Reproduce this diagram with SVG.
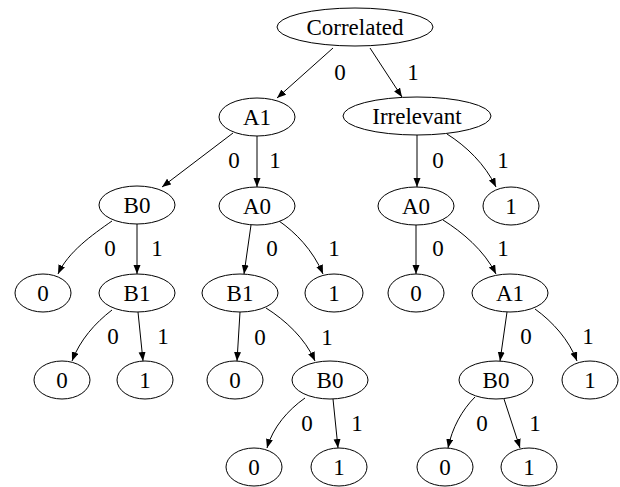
<svg xmlns="http://www.w3.org/2000/svg" width="620" height="487" viewBox="0 0 620 487">
<style>
.n ellipse{fill:#fff;stroke:#000;stroke-width:1}
text{font-size:23px;fill:#000;text-anchor:middle}
.e path{fill:none;stroke:#000;stroke-width:1;marker-end:url(#ah)}
</style>
<defs>
<marker id="ah" markerUnits="userSpaceOnUse" markerWidth="10" markerHeight="8" refX="9" refY="3.5" orient="auto">
<path d="M0,0 L9,3.5 L0,7 z" fill="#000"/>
</marker>
</defs>
<rect width="620" height="487" fill="#fff"/>
<g id="edges" class="e">
<path d="M333,48 L277,98"/>
<path d="M370,48 L402,97"/>
<path d="M233,133 L162,187"/>
<path d="M257,136 L257,187"/>
<path d="M112,221 C92,235 68,252 58,274"/>
<path d="M137,224 L137,274"/>
<path d="M251,225 L244,274"/>
<path d="M279,221 C295,232 313,250 323,274"/>
<path d="M240,312 L237,361"/>
<path d="M266,308 C285,320 305,338 315,361"/>
<path d="M305,398 C288,410 273,427 267,448"/>
<path d="M333,399 L338,448"/>
<path d="M112,310 C95,323 80,340 72,361"/>
<path d="M138,312 L143,361"/>
<path d="M417,135 L417,187"/>
<path d="M447,134 C466,146 485,164 496,187"/>
<path d="M416,225 L416,274"/>
<path d="M443,220 C462,232 484,250 496,274"/>
<path d="M507,312 L500,361"/>
<path d="M535,309 C553,322 569,340 577,361"/>
<path d="M475,397 C462,410 452,428 448,448"/>
<path d="M504,399 L520,448"/>
</g>
<g font-family="Liberation Serif, DejaVu Serif, serif">
<g id="edge-labels">
<text x="340" y="80">0</text>
<text x="413" y="80">1</text>
<text x="234" y="168">0</text>
<text x="275" y="168">1</text>
<text x="110" y="256">0</text>
<text x="157" y="256">1</text>
<text x="272" y="256">0</text>
<text x="334" y="256">1</text>
<text x="260" y="345">0</text>
<text x="327" y="345">1</text>
<text x="307" y="431">0</text>
<text x="357" y="431">1</text>
<text x="113" y="344">0</text>
<text x="163" y="344">1</text>
<text x="438" y="168">0</text>
<text x="503" y="168">1</text>
<text x="438" y="256">0</text>
<text x="503" y="256">1</text>
<text x="526" y="344">0</text>
<text x="588" y="344">1</text>
<text x="482" y="431">0</text>
<text x="535" y="431">1</text>
</g>
<g id="correlated" class="n"><ellipse cx="355" cy="27" rx="78" ry="19"/><text x="355" y="35">Correlated</text></g>
<g id="a1_l" class="n"><ellipse cx="257" cy="117" rx="38" ry="19"/><text x="257" y="125">A1</text></g>
<g id="irrelevant" class="n"><ellipse cx="417" cy="116" rx="74" ry="19"/><text x="417" y="124">Irrelevant</text></g>
<g id="b0_l" class="n"><ellipse cx="137" cy="205" rx="38" ry="19"/><text x="137" y="213">B0</text></g>
<g id="a0_m" class="n"><ellipse cx="257" cy="206" rx="38" ry="19"/><text x="257" y="214">A0</text></g>
<g id="a0_r" class="n"><ellipse cx="416" cy="206" rx="38" ry="19"/><text x="416" y="214">A0</text></g>
<g id="one_r2" class="n"><ellipse cx="511" cy="206" rx="28" ry="19"/><text x="511" y="214">1</text></g>
<g id="zero_l3" class="n"><ellipse cx="43" cy="293" rx="28" ry="19"/><text x="43" y="301">0</text></g>
<g id="b1_l" class="n"><ellipse cx="137" cy="293" rx="38" ry="19"/><text x="137" y="301">B1</text></g>
<g id="b1_m" class="n"><ellipse cx="240" cy="293" rx="38" ry="19"/><text x="240" y="301">B1</text></g>
<g id="one_m3" class="n"><ellipse cx="334" cy="293" rx="29" ry="19"/><text x="334" y="301">1</text></g>
<g id="zero_r3" class="n"><ellipse cx="416" cy="293" rx="28" ry="19"/><text x="416" y="301">0</text></g>
<g id="a1_r" class="n"><ellipse cx="510" cy="293" rx="38" ry="19"/><text x="510" y="301">A1</text></g>
<g id="zero_l4" class="n"><ellipse cx="62" cy="380" rx="28" ry="19"/><text x="62" y="388">0</text></g>
<g id="one_l4" class="n"><ellipse cx="145" cy="380" rx="28" ry="19"/><text x="145" y="388">1</text></g>
<g id="zero_m4" class="n"><ellipse cx="235" cy="380" rx="28" ry="19"/><text x="235" y="388">0</text></g>
<g id="b0_m" class="n"><ellipse cx="330" cy="380" rx="38" ry="19"/><text x="330" y="388">B0</text></g>
<g id="b0_r" class="n"><ellipse cx="496" cy="380" rx="37" ry="19"/><text x="496" y="388">B0</text></g>
<g id="one_r4" class="n"><ellipse cx="590" cy="380" rx="28" ry="19"/><text x="590" y="388">1</text></g>
<g id="zero_m5" class="n"><ellipse cx="254" cy="467" rx="28" ry="19"/><text x="254" y="475">0</text></g>
<g id="one_m5" class="n"><ellipse cx="339" cy="467" rx="28" ry="19"/><text x="339" y="475">1</text></g>
<g id="zero_r5" class="n"><ellipse cx="445" cy="467" rx="28" ry="19"/><text x="445" y="475">0</text></g>
<g id="one_r5" class="n"><ellipse cx="529" cy="467" rx="28" ry="19"/><text x="529" y="475">1</text></g>
</g>
</svg>
